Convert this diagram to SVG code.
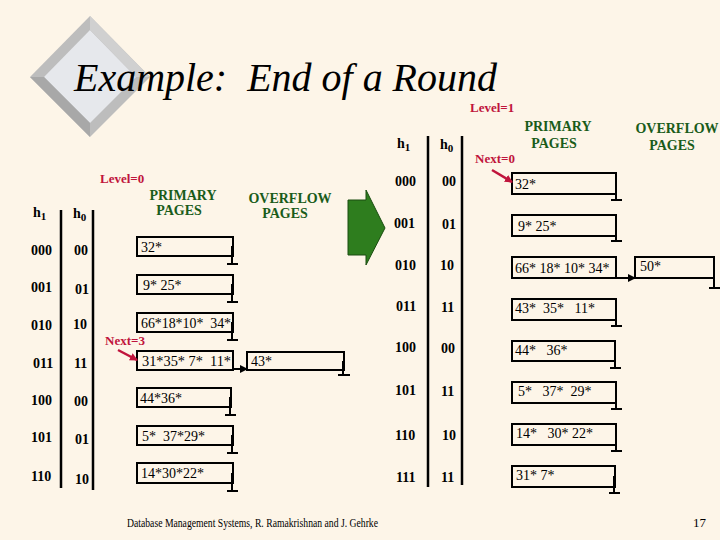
<svg xmlns="http://www.w3.org/2000/svg" width="720" height="540" viewBox="0 0 720 540">
<style>
text{font-family:'Liberation Serif','Times New Roman',Times,serif;white-space:pre}
.t{font-size:14px;fill:#000}
.b{font-size:14px;font-weight:bold;fill:#000}
.g{font-size:14px;font-weight:bold;fill:#1a5c1a;text-anchor:middle}
.r{font-size:13px;font-weight:bold;fill:#c0143c}
.box{fill:none;stroke:#000;stroke-width:2}
.ln{stroke:#000;stroke-width:2.5}
.term{fill:none;stroke:#000;stroke-width:2}
</style>
<defs>
<marker id="ah" markerWidth="8" markerHeight="8" refX="7" refY="4" orient="auto" markerUnits="userSpaceOnUse"><path d="M0,0L8,4L0,8z" fill="#000"/></marker>
<marker id="rh" markerWidth="8" markerHeight="8" refX="7" refY="4" orient="auto" markerUnits="userSpaceOnUse"><path d="M0,0L8,4L0,8z" fill="#c0143c"/></marker>
</defs>
<rect width="720" height="540" fill="#fdf5e8"/>
<g id="logo">
<polygon points="90,16 150,77 90,137 30,77" fill="#bdbdbd"/>
<polygon points="90,30 136,77 90,123 44,77" fill="#e6e8ec"/>
<polygon points="90,16 150,77 136,77 90,30" fill="#d0d0d0"/>
<polygon points="30,77 90,137 90,123 44,77" fill="#a8a8a8"/>
</g>
<text x="74" y="91" font-style="italic" font-size="39" textLength="423" lengthAdjust="spacingAndGlyphs">Example:  End of a Round</text>
<g id="left">
<text class="r" x="100" y="183">Level=0</text>
<text class="g" x="183" y="200">PRIMARY</text><text class="g" x="179" y="215">PAGES</text>
<text class="g" x="290" y="203">OVERFLOW</text><text class="g" x="285" y="218">PAGES</text>
<text class="b" x="33" y="217">h<tspan font-size="11" dy="3">1</tspan></text>
<text class="b" x="73" y="218">h<tspan font-size="11" dy="3">0</tspan></text>
<line class="ln" x1="61" y1="210" x2="61" y2="488"/>
<line class="ln" x1="93" y1="210" x2="93" y2="490"/>
<g class="b">
<text x="31" y="255">000</text><text x="31" y="292">001</text><text x="31" y="330">010</text><text x="33" y="368">011</text><text x="31" y="405">100</text><text x="31" y="442">101</text><text x="31" y="481">110</text>
<text x="74" y="255">00</text><text x="75" y="294">01</text><text x="73" y="329">10</text><text x="74" y="368">11</text><text x="74" y="406">00</text><text x="75" y="444">01</text><text x="75" y="484">10</text>
</g>
</g>
<g id="lb1"><rect class="box" x="137" y="237" width="96" height="19"/><text class="t" x="141" y="252">32*</text><path class="term" d="M232,246V264M227,264H238"/></g>
<g id="lb2"><rect class="box" x="137" y="275" width="96" height="19"/><text class="t" x="143" y="290">9* 25*</text><path class="term" d="M232,284V302M227,302H238"/></g>
<g id="lb3"><rect class="box" x="137" y="313" width="96" height="19"/><text class="t" x="141" y="328" textLength="90" lengthAdjust="spacingAndGlyphs">66*18*10*  34*</text><path class="term" d="M232,322V340M227,340H238"/></g>
<g id="lb4"><rect class="box" x="137" y="351" width="96" height="19"/><text class="t" x="142" y="366" textLength="89" lengthAdjust="spacingAndGlyphs">31*35* 7*  11*</text></g>
<g id="lb5"><rect class="box" x="137" y="388" width="94" height="19"/><text class="t" x="140" y="403">44*36*</text><path class="term" d="M230,397V415M225,415H236"/></g>
<g id="lb6"><rect class="box" x="137" y="426" width="96" height="19"/><text class="t" x="142" y="441">5*  37*29*</text><path class="term" d="M232,435V453M227,453H238"/></g>
<g id="lb7"><rect class="box" x="137" y="463" width="96" height="20"/><text class="t" x="141" y="478">14*30*22*</text><path class="term" d="M232,473V491M227,491H238"/></g>
<g id="lo1"><rect class="box" x="247" y="352" width="97" height="18"/><text class="t" x="251" y="366">43*</text><path class="term" d="M343,361V375M338,375H350"/></g>
<g id="ln3"><text class="r" x="105" y="345">Next=3</text></g>
<g id="arrow"><polygon points="348,200 366,200 366,190 385,228 366,265 366,255 348,255" fill="#2e7d1e" stroke="#1a4d10" stroke-width="1"/></g>
<g id="right">
<text class="r" x="470" y="112">Level=1</text>
<text class="g" x="558" y="131">PRIMARY</text><text class="g" x="554" y="148">PAGES</text>
<text class="g" x="677" y="133">OVERFLOW</text><text class="g" x="672" y="150">PAGES</text>
<text class="r" x="475" y="163">Next=0</text>
<text class="b" x="397" y="148">h<tspan font-size="11" dy="3">1</tspan></text>
<text class="b" x="440" y="149">h<tspan font-size="11" dy="3">0</tspan></text>
<line class="ln" x1="428" y1="136" x2="428" y2="487"/>
<line class="ln" x1="462" y1="136" x2="462" y2="485"/>
<g class="b">
<text x="395" y="186">000</text><text x="394" y="228">001</text><text x="395" y="270">010</text><text x="396" y="311">011</text><text x="395" y="352">100</text><text x="395" y="395">101</text><text x="395" y="440">110</text><text x="396" y="482">111</text>
<text x="442" y="186">00</text><text x="442" y="229">01</text><text x="440" y="270">10</text><text x="441" y="312">11</text><text x="441" y="353">00</text><text x="441" y="396">11</text><text x="442" y="440">10</text><text x="441" y="482">11</text>
</g>
</g>
<g id="rb1"><rect class="box" x="512" y="173" width="104" height="21"/><text class="t" x="515" y="189">32*</text><path class="term" d="M616,184V200M611,200H622"/></g>
<g id="rb2"><rect class="box" x="512" y="215" width="104" height="21"/><text class="t" x="518" y="231">9* 25*</text><path class="term" d="M616,226V241M611,241H622"/></g>
<g id="rb3"><rect class="box" x="512" y="257" width="104" height="21"/><text class="t" x="515" y="273">66* 18* 10* 34*</text></g>
<g id="rb4"><rect class="box" x="512" y="299" width="104" height="21"/><text class="t" x="515" y="313">43*  35*   11*</text><path class="term" d="M616,310V326M611,326H622"/></g>
<g id="rb5"><rect class="box" x="512" y="341" width="103" height="20"/><text class="t" x="515" y="355">44*   36*</text><path class="term" d="M615,351V368M610,368H621"/></g>
<g id="rb6"><rect class="box" x="512" y="382" width="104" height="21"/><text class="t" x="518" y="396">5*   37*  29*</text><path class="term" d="M616,393V409M611,409H622"/></g>
<g id="rb7"><rect class="box" x="512" y="424" width="104" height="21"/><text class="t" x="516" y="438">14*   30* 22*</text><path class="term" d="M616,435V451M611,451H622"/></g>
<g id="rb8"><rect class="box" x="512" y="466" width="103" height="21"/><text class="t" x="516" y="480">31* 7*</text><path class="term" d="M614,476V493M609,493H620"/></g>
<g id="ro1"><rect class="box" x="635" y="257" width="79" height="21"/><text class="t" x="640" y="271">50*</text><path class="term" d="M714,267V288M709,288H720"/></g>
<g id="connectors">
<line x1="233" y1="369" x2="247" y2="369" stroke="#000" stroke-width="2" marker-end="url(#ah)"/>
<line x1="616" y1="278" x2="635" y2="278" stroke="#000" stroke-width="2" marker-end="url(#ah)"/>
<line x1="118" y1="350" x2="137" y2="360" stroke="#c0143c" stroke-width="2.5" marker-end="url(#rh)"/>
<line x1="492" y1="170" x2="512" y2="182" stroke="#c0143c" stroke-width="2.5" marker-end="url(#rh)"/>
</g>
<text x="127" y="527" font-size="13" textLength="251" lengthAdjust="spacingAndGlyphs">Database Management Systems, R. Ramakrishnan and J. Gehrke</text>
<text x="706" y="527" font-size="13" text-anchor="end">17</text>
</svg>
